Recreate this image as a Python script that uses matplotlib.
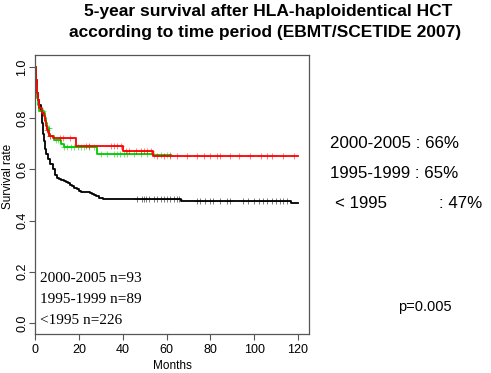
import numpy as np
import matplotlib
matplotlib.use('Agg')
import matplotlib.pyplot as plt

plt.rcParams['font.family'] = ['Liberation Sans', 'DejaVu Sans']

# Kaplan-Meier steps (months, survival)
t_0005 = [0, 0.5, 1, 1.5, 2, 3, 4, 4.5, 5, 5.5, 6, 6.5, 8, 18.6, 40, 54, 120]
s_0005 = [1.0, 0.95, 0.90, 0.87, 0.84, 0.82, 0.81, 0.79, 0.77, 0.755, 0.745, 0.73, 0.721, 0.693, 0.673, 0.652, 0.652]
c_0005 = [5.5, 7.0, 11.4, 12.9, 15.9, 23.2, 24.7, 34.5, 36, 37.6, 39.1, 41.4, 42.9, 45.9, 48.2,
          49.7, 51.2, 52.7, 55.8, 58.8, 61.8, 64.8, 69.4, 73.9, 76.9, 80, 83, 84.5, 89, 93,
          98, 103, 106, 108, 113, 118]

t_9599 = [0, 0.5, 1, 1.5, 2, 4, 4.5, 5, 5.5, 6.5, 7, 8.5, 12, 13, 28.5, 54, 62]
s_9599 = [1.0, 0.93, 0.88, 0.85, 0.83, 0.82, 0.80, 0.78, 0.76, 0.74, 0.73, 0.715, 0.70, 0.688, 0.659, 0.655, 0.655]
c_9599 = [3.5, 5.7, 6.3, 7.0, 9.5, 10.5, 13.3, 14.8, 16.4, 17.9, 19.4, 21, 22.4, 24.7, 27, 30,
          33, 36, 37.6, 39, 40.6, 42, 45, 48.2, 51.2, 54.2, 57.3, 60.3, 61.8]

t_lt95 = [0, 0.5, 1, 1.5, 2, 2.7, 3, 3.5, 4, 4.5, 5, 6, 7, 8, 9, 10, 11, 12, 13, 14, 15, 16,
          17, 18, 19, 20, 21, 23, 25, 26, 27, 28, 29, 31, 66.5, 117, 120]
s_lt95 = [1.0, 0.95, 0.90, 0.87, 0.85, 0.83, 0.78, 0.74, 0.71, 0.68, 0.66, 0.64, 0.62, 0.60,
          0.58, 0.568, 0.562, 0.558, 0.553, 0.549, 0.545, 0.54, 0.535, 0.528, 0.522, 0.515,
          0.512, 0.51, 0.508, 0.505, 0.50, 0.495, 0.49, 0.484, 0.478, 0.467, 0.467]
c_lt95 = [46.7, 49, 49.7, 50.5, 52, 54.2, 55.8, 57.3, 58.8, 60.3, 61.8, 63.3, 64.8, 65.6,
          73.9, 75.5, 77.7, 80, 81.4, 84.5, 87.6, 89, 95, 97.3, 100, 102, 104, 106, 108,
          110, 112, 113, 115]

groups = [(t_lt95, s_lt95, c_lt95, 'black'),
          (t_9599, s_9599, c_9599, '#00cc00'),
          (t_0005, s_0005, c_0005, 'red')]

fig = plt.figure(figsize=(4.91, 3.73), dpi=100)
ax = fig.add_axes([0.0713, 0.1046, 0.558, 0.748])

for t, s, c, col in groups:
    t = np.array(t)
    s = np.array(s)
    ax.step(t, s, where='post', color=col, lw=1.3)
    # censor marks sit on the curve at their time
    idx = np.searchsorted(t, c, side='right') - 1
    ax.plot(c, s[idx], ls='none', marker='+', ms=5, mew=0.6, color=col, alpha=0.6)

ax.set_xlim(0, 125)
ax.set_ylim(-0.043, 1.047)
ax.set_xticks([0, 20, 40, 60, 80, 100, 120])
ax.set_yticks([0.0, 0.2, 0.4, 0.6, 0.8, 1.0])
ax.set_yticklabels(['0.0', '0.2', '0.4', '0.6', '0.8', '1.0'], rotation=90, va='center')
ax.tick_params(labelsize=9, length=4, color='#555555')
ax.tick_params(axis='y', pad=0.8)
ax.tick_params(axis='x', pad=3)
for sp in ax.spines.values():
    sp.set_color('#555555')
    sp.set_linewidth(0.9)
ax.set_xlabel('Months', fontsize=8.5, labelpad=3)
ax.set_ylabel('Survival rate', fontsize=8.5)
ax.yaxis.set_label_coords(-0.078, 0.563)

legend_lines = ['2000-2005 n=93', '1995-1999 n=89', '<1995 n=226']
for i, txt in enumerate(legend_lines):
    ax.text(2.5, 0.175 - i * 0.083, txt, fontsize=11, family=['Liberation Serif', 'DejaVu Serif'],
            va='center', ha='left')

fig.text(0.546, 0.97, '5-year survival after HLA-haploidentical HCT',
         ha='center', va='center', fontsize=12.5, fontweight='bold')
fig.text(0.54, 0.912, 'according to time period (EBMT/SCETIDE 2007)',
         ha='center', va='center', fontsize=12.5, fontweight='bold')

periods = ['2000-2005', '1995-1999', '< 1995']
rates = ['66%', '65%', '47%']
for i, (p, r) in enumerate(zip(periods, rates)):
    y = 0.615 - i * 0.08
    if i < 2:
        fig.text(0.672, y, p + ' : ' + r, fontsize=12.2, va='center', ha='left')
    else:
        fig.text(0.682, y, p, fontsize=12.2, va='center', ha='left')
        fig.text(0.895, y, ': ' + r, fontsize=12.2, va='center', ha='left')

fig.text(0.81, 0.178, 'p=0.005', fontsize=10.5, va='center', ha='left')

fig.savefig('out.png', dpi=100)
